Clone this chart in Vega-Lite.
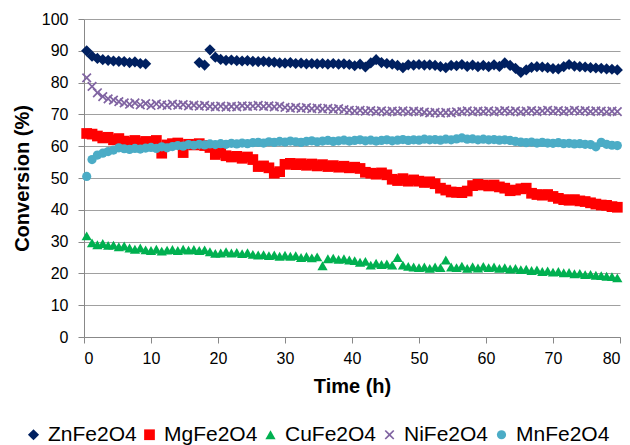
{
"$schema": "https://vega.github.io/schema/vega-lite/v6.json",
"width": 536, "height": 318,
"autosize": {"type": "none"},
"padding": {"left": 84, "top": 19, "right": 10, "bottom": 108},
"background": "#ffffff",
"config": {"font": "Liberation Sans", "view": {"stroke": null}},
"data": {"values": [
{"t":0.4,"ZnFe2O4":90.0,"MgFe2O4":64.0,"CuFe2O4":31.8,"NiFe2O4":81.5,"MnFe2O4":50.5},
{"t":1.2,"ZnFe2O4":88.3,"MgFe2O4":63.8,"CuFe2O4":29.6,"NiFe2O4":78.8,"MnFe2O4":55.8},
{"t":2.0,"ZnFe2O4":87.6,"MgFe2O4":63.2,"CuFe2O4":29.0,"NiFe2O4":76.8,"MnFe2O4":57.2},
{"t":2.8,"ZnFe2O4":87.2,"MgFe2O4":62.6,"CuFe2O4":29.4,"NiFe2O4":75.6,"MnFe2O4":57.8},
{"t":3.6,"ZnFe2O4":87.0,"MgFe2O4":62.8,"CuFe2O4":28.8,"NiFe2O4":74.9,"MnFe2O4":58.3},
{"t":4.4,"ZnFe2O4":86.8,"MgFe2O4":62.0,"CuFe2O4":28.9,"NiFe2O4":74.5,"MnFe2O4":58.8},
{"t":5.2,"ZnFe2O4":86.7,"MgFe2O4":62.4,"CuFe2O4":28.4,"NiFe2O4":74.0,"MnFe2O4":59.5},
{"t":6.0,"ZnFe2O4":86.6,"MgFe2O4":61.6,"CuFe2O4":28.6,"NiFe2O4":73.6,"MnFe2O4":59.2},
{"t":6.8,"ZnFe2O4":86.3,"MgFe2O4":61.2,"CuFe2O4":28.0,"NiFe2O4":73.2,"MnFe2O4":59.0},
{"t":7.6,"ZnFe2O4":86.5,"MgFe2O4":61.8,"CuFe2O4":27.6,"NiFe2O4":73.6,"MnFe2O4":59.3},
{"t":8.4,"ZnFe2O4":86.0,"MgFe2O4":61.0,"CuFe2O4":28.0,"NiFe2O4":73.0,"MnFe2O4":59.1},
{"t":9.2,"ZnFe2O4":85.9,"MgFe2O4":61.5,"CuFe2O4":27.4,"NiFe2O4":73.4,"MnFe2O4":59.4},
{"t":10.0,"ZnFe2O4":null,"MgFe2O4":61.2,"CuFe2O4":27.2,"NiFe2O4":72.8,"MnFe2O4":59.6},
{"t":10.8,"ZnFe2O4":null,"MgFe2O4":61.8,"CuFe2O4":27.6,"NiFe2O4":73.3,"MnFe2O4":59.3},
{"t":11.6,"ZnFe2O4":null,"MgFe2O4":57.8,"CuFe2O4":27.0,"NiFe2O4":73.0,"MnFe2O4":59.8},
{"t":12.4,"ZnFe2O4":null,"MgFe2O4":60.4,"CuFe2O4":27.3,"NiFe2O4":72.8,"MnFe2O4":59.5},
{"t":13.2,"ZnFe2O4":null,"MgFe2O4":60.8,"CuFe2O4":27.5,"NiFe2O4":73.2,"MnFe2O4":59.9},
{"t":14.0,"ZnFe2O4":null,"MgFe2O4":61.0,"CuFe2O4":27.2,"NiFe2O4":72.9,"MnFe2O4":60.2},
{"t":14.8,"ZnFe2O4":null,"MgFe2O4":58.0,"CuFe2O4":27.6,"NiFe2O4":73.1,"MnFe2O4":60.0},
{"t":15.6,"ZnFe2O4":null,"MgFe2O4":60.6,"CuFe2O4":27.3,"NiFe2O4":72.7,"MnFe2O4":60.5},
{"t":16.4,"ZnFe2O4":null,"MgFe2O4":60.4,"CuFe2O4":27.5,"NiFe2O4":72.9,"MnFe2O4":60.3},
{"t":17.2,"ZnFe2O4":86.3,"MgFe2O4":60.8,"CuFe2O4":27.2,"NiFe2O4":72.6,"MnFe2O4":60.6},
{"t":18.0,"ZnFe2O4":85.5,"MgFe2O4":60.2,"CuFe2O4":27.4,"NiFe2O4":72.8,"MnFe2O4":60.4},
{"t":18.8,"ZnFe2O4":90.3,"MgFe2O4":59.6,"CuFe2O4":26.8,"NiFe2O4":72.5,"MnFe2O4":60.7},
{"t":19.6,"ZnFe2O4":88.0,"MgFe2O4":57.4,"CuFe2O4":26.3,"NiFe2O4":72.4,"MnFe2O4":60.5},
{"t":20.4,"ZnFe2O4":87.3,"MgFe2O4":58.0,"CuFe2O4":26.4,"NiFe2O4":72.6,"MnFe2O4":60.8},
{"t":21.2,"ZnFe2O4":87.0,"MgFe2O4":57.0,"CuFe2O4":26.8,"NiFe2O4":72.3,"MnFe2O4":60.6},
{"t":22.0,"ZnFe2O4":87.1,"MgFe2O4":56.6,"CuFe2O4":26.4,"NiFe2O4":72.5,"MnFe2O4":60.9},
{"t":22.8,"ZnFe2O4":86.9,"MgFe2O4":56.8,"CuFe2O4":26.6,"NiFe2O4":72.4,"MnFe2O4":60.7},
{"t":23.6,"ZnFe2O4":86.8,"MgFe2O4":56.2,"CuFe2O4":26.2,"NiFe2O4":72.7,"MnFe2O4":61.0},
{"t":24.4,"ZnFe2O4":86.9,"MgFe2O4":56.6,"CuFe2O4":26.5,"NiFe2O4":72.5,"MnFe2O4":60.8},
{"t":25.2,"ZnFe2O4":86.7,"MgFe2O4":55.8,"CuFe2O4":26.0,"NiFe2O4":72.6,"MnFe2O4":61.1},
{"t":26.0,"ZnFe2O4":86.6,"MgFe2O4":53.6,"CuFe2O4":25.8,"NiFe2O4":72.8,"MnFe2O4":61.2},
{"t":26.8,"ZnFe2O4":86.7,"MgFe2O4":53.8,"CuFe2O4":25.9,"NiFe2O4":72.5,"MnFe2O4":61.0},
{"t":27.6,"ZnFe2O4":86.5,"MgFe2O4":53.2,"CuFe2O4":25.6,"NiFe2O4":72.7,"MnFe2O4":61.4},
{"t":28.4,"ZnFe2O4":86.4,"MgFe2O4":51.5,"CuFe2O4":25.8,"NiFe2O4":72.4,"MnFe2O4":61.2},
{"t":29.2,"ZnFe2O4":86.2,"MgFe2O4":52.0,"CuFe2O4":25.4,"NiFe2O4":72.6,"MnFe2O4":61.5},
{"t":30.0,"ZnFe2O4":86.1,"MgFe2O4":54.3,"CuFe2O4":25.7,"NiFe2O4":72.2,"MnFe2O4":61.3},
{"t":30.8,"ZnFe2O4":86.3,"MgFe2O4":54.6,"CuFe2O4":25.4,"NiFe2O4":72.0,"MnFe2O4":61.6},
{"t":31.6,"ZnFe2O4":86.0,"MgFe2O4":54.2,"CuFe2O4":25.6,"NiFe2O4":72.2,"MnFe2O4":61.4},
{"t":32.4,"ZnFe2O4":86.1,"MgFe2O4":54.5,"CuFe2O4":25.0,"NiFe2O4":71.9,"MnFe2O4":61.2},
{"t":33.2,"ZnFe2O4":85.9,"MgFe2O4":54.0,"CuFe2O4":25.3,"NiFe2O4":72.1,"MnFe2O4":61.5},
{"t":34.0,"ZnFe2O4":86.0,"MgFe2O4":54.4,"CuFe2O4":24.9,"NiFe2O4":71.8,"MnFe2O4":61.7},
{"t":34.8,"ZnFe2O4":85.9,"MgFe2O4":53.8,"CuFe2O4":25.2,"NiFe2O4":72.0,"MnFe2O4":61.4},
{"t":35.6,"ZnFe2O4":86.0,"MgFe2O4":54.2,"CuFe2O4":22.4,"NiFe2O4":71.7,"MnFe2O4":61.6},
{"t":36.4,"ZnFe2O4":85.8,"MgFe2O4":53.6,"CuFe2O4":24.6,"NiFe2O4":71.9,"MnFe2O4":61.8},
{"t":37.2,"ZnFe2O4":86.0,"MgFe2O4":53.9,"CuFe2O4":24.8,"NiFe2O4":71.6,"MnFe2O4":61.5},
{"t":38.0,"ZnFe2O4":85.8,"MgFe2O4":53.4,"CuFe2O4":24.4,"NiFe2O4":71.8,"MnFe2O4":61.7},
{"t":38.8,"ZnFe2O4":85.9,"MgFe2O4":53.7,"CuFe2O4":24.6,"NiFe2O4":71.5,"MnFe2O4":61.9},
{"t":39.6,"ZnFe2O4":85.7,"MgFe2O4":53.2,"CuFe2O4":24.2,"NiFe2O4":71.3,"MnFe2O4":61.6},
{"t":40.4,"ZnFe2O4":85.3,"MgFe2O4":53.4,"CuFe2O4":24.0,"NiFe2O4":71.1,"MnFe2O4":61.8},
{"t":41.2,"ZnFe2O4":85.8,"MgFe2O4":53.0,"CuFe2O4":23.5,"NiFe2O4":71.3,"MnFe2O4":62.0},
{"t":42.0,"ZnFe2O4":84.9,"MgFe2O4":51.8,"CuFe2O4":23.8,"NiFe2O4":71.0,"MnFe2O4":61.7},
{"t":42.8,"ZnFe2O4":86.2,"MgFe2O4":51.5,"CuFe2O4":22.6,"NiFe2O4":71.2,"MnFe2O4":61.9},
{"t":43.6,"ZnFe2O4":87.2,"MgFe2O4":51.2,"CuFe2O4":23.2,"NiFe2O4":70.9,"MnFe2O4":61.6},
{"t":44.4,"ZnFe2O4":86.3,"MgFe2O4":51.6,"CuFe2O4":22.8,"NiFe2O4":71.1,"MnFe2O4":61.8},
{"t":45.2,"ZnFe2O4":86.0,"MgFe2O4":51.0,"CuFe2O4":23.0,"NiFe2O4":70.8,"MnFe2O4":62.0},
{"t":46.0,"ZnFe2O4":85.8,"MgFe2O4":49.6,"CuFe2O4":22.6,"NiFe2O4":71.0,"MnFe2O4":61.7},
{"t":46.8,"ZnFe2O4":85.4,"MgFe2O4":49.2,"CuFe2O4":25.0,"NiFe2O4":70.9,"MnFe2O4":61.9},
{"t":47.6,"ZnFe2O4":84.7,"MgFe2O4":49.8,"CuFe2O4":22.6,"NiFe2O4":71.1,"MnFe2O4":62.1},
{"t":48.4,"ZnFe2O4":85.6,"MgFe2O4":49.0,"CuFe2O4":22.2,"NiFe2O4":70.8,"MnFe2O4":61.8},
{"t":49.2,"ZnFe2O4":85.5,"MgFe2O4":49.4,"CuFe2O4":22.0,"NiFe2O4":71.0,"MnFe2O4":62.0},
{"t":50.0,"ZnFe2O4":85.7,"MgFe2O4":49.0,"CuFe2O4":21.8,"NiFe2O4":70.9,"MnFe2O4":61.9},
{"t":50.8,"ZnFe2O4":85.5,"MgFe2O4":48.6,"CuFe2O4":22.0,"NiFe2O4":70.7,"MnFe2O4":62.2},
{"t":51.6,"ZnFe2O4":85.6,"MgFe2O4":48.8,"CuFe2O4":21.6,"NiFe2O4":70.5,"MnFe2O4":62.0},
{"t":52.4,"ZnFe2O4":85.4,"MgFe2O4":48.2,"CuFe2O4":22.0,"NiFe2O4":70.6,"MnFe2O4":62.1},
{"t":53.2,"ZnFe2O4":85.0,"MgFe2O4":46.8,"CuFe2O4":21.8,"NiFe2O4":70.4,"MnFe2O4":61.9},
{"t":54.0,"ZnFe2O4":84.7,"MgFe2O4":46.2,"CuFe2O4":24.2,"NiFe2O4":70.6,"MnFe2O4":62.2},
{"t":54.8,"ZnFe2O4":85.4,"MgFe2O4":45.6,"CuFe2O4":22.0,"NiFe2O4":70.5,"MnFe2O4":62.0},
{"t":55.6,"ZnFe2O4":85.3,"MgFe2O4":45.5,"CuFe2O4":21.8,"NiFe2O4":70.8,"MnFe2O4":62.3},
{"t":56.4,"ZnFe2O4":85.7,"MgFe2O4":45.4,"CuFe2O4":22.3,"NiFe2O4":70.9,"MnFe2O4":62.6},
{"t":57.2,"ZnFe2O4":85.1,"MgFe2O4":45.9,"CuFe2O4":21.6,"NiFe2O4":71.1,"MnFe2O4":62.2},
{"t":58.0,"ZnFe2O4":85.5,"MgFe2O4":47.6,"CuFe2O4":22.1,"NiFe2O4":70.8,"MnFe2O4":62.3},
{"t":58.8,"ZnFe2O4":85.0,"MgFe2O4":48.0,"CuFe2O4":21.7,"NiFe2O4":71.0,"MnFe2O4":62.0},
{"t":59.6,"ZnFe2O4":85.4,"MgFe2O4":47.8,"CuFe2O4":22.2,"NiFe2O4":70.9,"MnFe2O4":62.2},
{"t":60.4,"ZnFe2O4":85.0,"MgFe2O4":47.5,"CuFe2O4":21.8,"NiFe2O4":71.1,"MnFe2O4":62.0},
{"t":61.2,"ZnFe2O4":85.6,"MgFe2O4":47.8,"CuFe2O4":22.0,"NiFe2O4":70.8,"MnFe2O4":62.1},
{"t":62.0,"ZnFe2O4":85.1,"MgFe2O4":47.2,"CuFe2O4":21.6,"NiFe2O4":71.0,"MnFe2O4":61.9},
{"t":62.8,"ZnFe2O4":86.2,"MgFe2O4":46.8,"CuFe2O4":21.8,"NiFe2O4":71.2,"MnFe2O4":62.0},
{"t":63.6,"ZnFe2O4":85.4,"MgFe2O4":46.0,"CuFe2O4":21.4,"NiFe2O4":70.9,"MnFe2O4":61.8},
{"t":64.4,"ZnFe2O4":84.5,"MgFe2O4":46.2,"CuFe2O4":21.6,"NiFe2O4":71.1,"MnFe2O4":61.5},
{"t":65.2,"ZnFe2O4":83.2,"MgFe2O4":46.6,"CuFe2O4":21.2,"NiFe2O4":70.8,"MnFe2O4":61.3},
{"t":66.0,"ZnFe2O4":84.0,"MgFe2O4":46.8,"CuFe2O4":21.3,"NiFe2O4":71.0,"MnFe2O4":61.1},
{"t":66.8,"ZnFe2O4":84.8,"MgFe2O4":45.2,"CuFe2O4":20.9,"NiFe2O4":71.2,"MnFe2O4":61.3},
{"t":67.6,"ZnFe2O4":85.0,"MgFe2O4":44.8,"CuFe2O4":21.1,"NiFe2O4":70.9,"MnFe2O4":61.0},
{"t":68.4,"ZnFe2O4":84.9,"MgFe2O4":44.6,"CuFe2O4":20.6,"NiFe2O4":71.1,"MnFe2O4":61.2},
{"t":69.2,"ZnFe2O4":84.7,"MgFe2O4":44.8,"CuFe2O4":20.8,"NiFe2O4":71.3,"MnFe2O4":61.0},
{"t":70.0,"ZnFe2O4":84.4,"MgFe2O4":44.2,"CuFe2O4":20.4,"NiFe2O4":71.0,"MnFe2O4":60.9},
{"t":70.8,"ZnFe2O4":84.3,"MgFe2O4":43.6,"CuFe2O4":20.6,"NiFe2O4":71.2,"MnFe2O4":61.1},
{"t":71.6,"ZnFe2O4":85.0,"MgFe2O4":43.2,"CuFe2O4":20.2,"NiFe2O4":70.9,"MnFe2O4":60.8},
{"t":72.4,"ZnFe2O4":85.7,"MgFe2O4":43.0,"CuFe2O4":20.3,"NiFe2O4":71.1,"MnFe2O4":60.9},
{"t":73.2,"ZnFe2O4":85.2,"MgFe2O4":43.2,"CuFe2O4":19.9,"NiFe2O4":71.3,"MnFe2O4":60.7},
{"t":74.0,"ZnFe2O4":85.0,"MgFe2O4":42.8,"CuFe2O4":20.0,"NiFe2O4":71.0,"MnFe2O4":60.8},
{"t":74.8,"ZnFe2O4":84.9,"MgFe2O4":42.6,"CuFe2O4":19.6,"NiFe2O4":71.2,"MnFe2O4":60.6},
{"t":75.6,"ZnFe2O4":84.7,"MgFe2O4":42.2,"CuFe2O4":19.7,"NiFe2O4":70.9,"MnFe2O4":60.5},
{"t":76.4,"ZnFe2O4":84.6,"MgFe2O4":41.8,"CuFe2O4":19.4,"NiFe2O4":71.1,"MnFe2O4":59.8},
{"t":77.2,"ZnFe2O4":84.5,"MgFe2O4":41.5,"CuFe2O4":19.3,"NiFe2O4":71.0,"MnFe2O4":61.2},
{"t":78.0,"ZnFe2O4":84.3,"MgFe2O4":41.4,"CuFe2O4":19.1,"NiFe2O4":70.8,"MnFe2O4":60.6},
{"t":78.8,"ZnFe2O4":84.2,"MgFe2O4":41.0,"CuFe2O4":19.0,"NiFe2O4":71.0,"MnFe2O4":60.3},
{"t":79.6,"ZnFe2O4":84.0,"MgFe2O4":40.8,"CuFe2O4":18.6,"NiFe2O4":70.9,"MnFe2O4":60.2}
]},
"transform": [
  {"fold": ["ZnFe2O4","MgFe2O4","CuFe2O4","NiFe2O4","MnFe2O4"], "as": ["series","conv"]},
  {"filter": "isValid(datum.conv)"}
],
"mark": {"type": "point", "filled": true, "opacity": 1},
"encoding": {
  "x": {"field": "t", "type": "quantitative",
    "scale": {"domain": [0, 80], "nice": false, "zero": false},
    "axis": {"title": "Time (h)", "values": [0,10,20,30,40,50,60,70,80], "grid": false,
      "domainColor": "#888888", "tickColor": "#888888", "tickSize": 6, "labelPadding": 7,
      "labelFontSize": 16, "labelColor": "#000000", "labelFont": "Liberation Sans",
      "titleFont": "Liberation Sans", "titleFontSize": 20, "titleFontWeight": "bold", "titleColor": "#000000", "titlePadding": 10}},
  "y": {"field": "conv", "type": "quantitative",
    "scale": {"domain": [0, 100], "nice": false},
    "axis": {"title": "Conversion (%)", "values": [0,10,20,30,40,50,60,70,80,90,100], "grid": true,
      "gridColor": "#a0a0a0", "domainColor": "#888888", "tickColor": "#888888", "tickSize": 6, "labelPadding": 10,
      "labelFontSize": 16, "labelColor": "#000000", "labelFont": "Liberation Sans",
      "titleFont": "Liberation Sans", "titleFontSize": 20, "titleFontWeight": "bold", "titleColor": "#000000", "titlePadding": 9}},
  "color": {"field": "series", "type": "nominal",
    "scale": {"domain": ["ZnFe2O4","MgFe2O4","CuFe2O4","NiFe2O4","MnFe2O4"], "range": ["#002060","#ff0000","#00b050","#8064a2","#4bacc6"]},
    "legend": {"title": null, "orient": "none", "legendX": -61, "legendY": 405, "direction": "horizontal",
      "labelFontSize": 21, "labelColor": "#000000", "labelFont": "Liberation Sans", "symbolSize": 100, "labelOffset": 4, "columnPadding": 2}},
  "shape": {"field": "series", "type": "nominal",
    "scale": {"domain": ["ZnFe2O4","MgFe2O4","CuFe2O4","NiFe2O4","MnFe2O4"], "range": ["diamond","square","triangle-up","M-1,-0.75L-0.75,-1L0,-0.25L0.75,-1L1,-0.75L0.25,0L1,0.75L0.75,1L0,0.25L-0.75,1L-1,0.75L-0.25,0Z","circle"]},
    "legend": {"title": null, "orient": "none", "legendX": -61, "legendY": 405, "direction": "horizontal",
      "labelFontSize": 21, "labelColor": "#000000", "labelFont": "Liberation Sans", "symbolSize": 100, "labelOffset": 4, "columnPadding": 2}},
  "size": {"field": "series", "type": "ordinal",
    "scale": {"domain": ["ZnFe2O4","MgFe2O4","CuFe2O4","NiFe2O4","MnFe2O4"], "range": [125,85,130,115,125]},
    "legend": null},
  "order": {"field": "series", "sort": "ascending"}
}
}
